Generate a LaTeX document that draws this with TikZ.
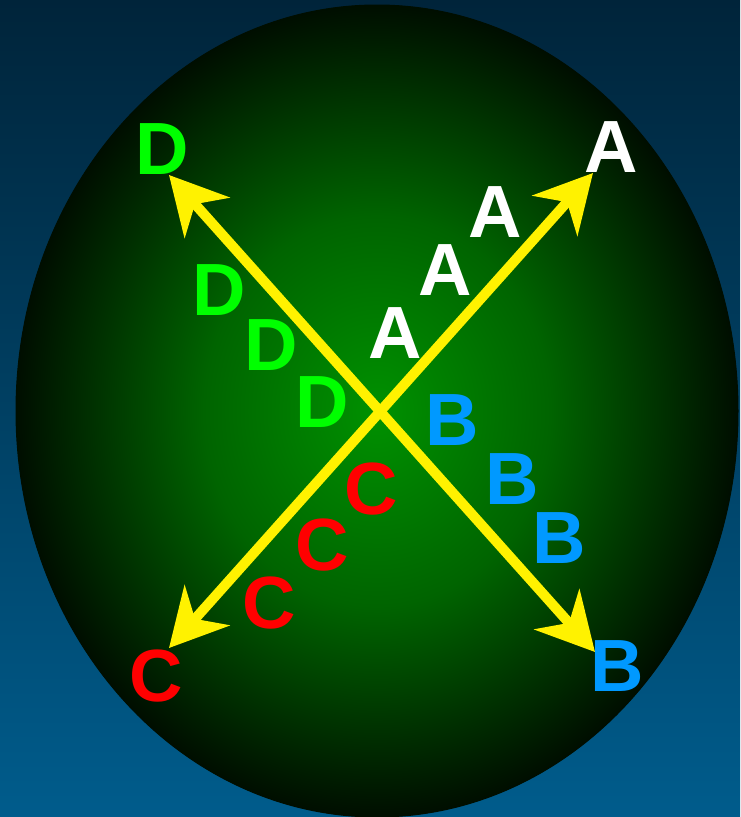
\documentclass[tikz,border=0pt]{standalone}
\usepackage{fontspec}
\setmainfont{Liberation Sans}
\usetikzlibrary{arrows.meta}
\definecolor{skytop}{RGB}{0,36,58}
\definecolor{skybot}{RGB}{0,92,140}
\definecolor{eggmid}{RGB}{0,145,0}
\definecolor{egghalf}{RGB}{0,100,0}
\definecolor{eggrim}{RGB}{0,14,0}
\definecolor{letterb}{RGB}{0,153,255}
\definecolor{letterd}{RGB}{0,255,0}
\pgfdeclareradialshading{egg}{\pgfpointorigin}{color(0bp)=(eggmid); color(12bp)=(egghalf); color(25bp)=(eggrim); color(50bp)=(eggrim)}
\begin{document}
\begin{tikzpicture}[x=1pt,y=-1pt,
    lbl/.style={inner sep=0pt, font=\fontsize{74}{74}\selectfont\bfseries},
    beam/.style={yellow, line width=10pt,
      {Stealth[length=57pt,width=60pt,inset=18pt]}-{Stealth[length=57pt,width=60pt,inset=18pt]}}]
    \useasboundingbox (0,0) rectangle (740,817);
    \shade[top color=skytop, bottom color=skybot] (0,0) rectangle (740,817);
    \shade[shading=egg, draw=eggrim, line width=1pt]
      (377,411) ellipse [x radius=361pt, y radius=406pt];
    % arrow tips
    \coordinate (tipA) at (593,173);
    \coordinate (tipB) at (595,652);
    \coordinate (tipC) at (169,648);
    \coordinate (tipD) at (169,175);
    \draw[beam] (tipC) -- (tipA);
    \draw[beam] (tipD) -- (tipB);
    % end letters
    \node[lbl, white]      (A)  at (611,147) {A};
    \node[lbl, letterb]    (B)  at (617,666) {B};
    \node[lbl, red]        (C)  at (156,676) {C};
    \node[lbl, letterd]    (D)  at (162,149) {D};
    % letters along the arrows
    \node[lbl, white]      (a1) at (495,212) {A};
    \node[lbl, white]      (a2) at (445,270) {A};
    \node[lbl, white]      (a3) at (395,333) {A};
    \node[lbl, letterb]    (b1) at (452,420) {B};
    \node[lbl, letterb]    (b2) at (512,479) {B};
    \node[lbl, letterb]    (b3) at (559,538) {B};
    \node[lbl, red]        (c1) at (371,489) {C};
    \node[lbl, red]        (c2) at (322,545) {C};
    \node[lbl, red]        (c3) at (269,603) {C};
    \node[lbl, letterd]    (d1) at (219,290) {D};
    \node[lbl, letterd]    (d2) at (271,345) {D};
    \node[lbl, letterd]    (d3) at (322,402) {D};
\end{tikzpicture}
\end{document}
